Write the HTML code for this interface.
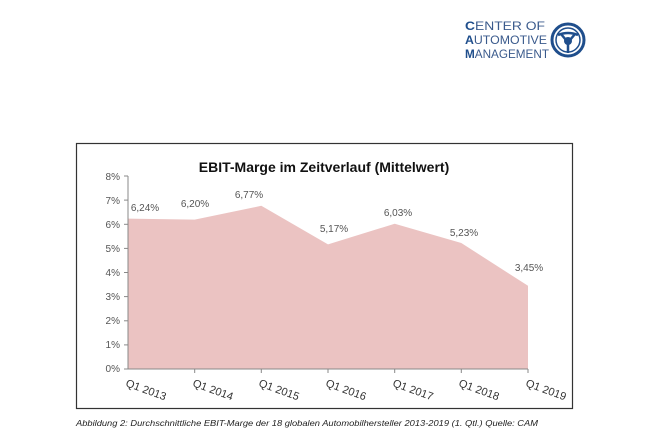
<!DOCTYPE html>
<html><head><meta charset="utf-8"><style>
body{margin:0;background:#fff;width:650px;height:434px;overflow:hidden;font-family:"Liberation Sans",sans-serif}
</style></head><body>
<svg width="650" height="434" xmlns="http://www.w3.org/2000/svg" font-family="Liberation Sans, sans-serif">
<rect width="650" height="434" fill="#fff"/>
<g fill="#3a5a8c" font-size="11.5">
<text x="465" y="30" textLength="80" lengthAdjust="spacingAndGlyphs"><tspan fill="#1f4e8c" font-weight="bold">C</tspan>ENTER OF</text>
<text x="465" y="44" textLength="82" lengthAdjust="spacingAndGlyphs"><tspan fill="#1f4e8c" font-weight="bold">A</tspan>UTOMOTIVE</text>
<text x="465" y="58" textLength="84" lengthAdjust="spacingAndGlyphs"><tspan fill="#1f4e8c" font-weight="bold">M</tspan>ANAGEMENT</text>
</g>
<circle cx="568" cy="40" r="16" fill="none" stroke="#1f4e8c" stroke-width="3"/>
<circle cx="568" cy="40" r="12" fill="none" stroke="#1f4e8c" stroke-width="1.5"/>
<circle cx="568" cy="41" r="4" fill="#1f4e8c"/>
<path d="M558 35 Q568 31 578 35 M568 41 L568 53 M561 34 L566 40 M575 34 L570 40" stroke="#1f4e8c" stroke-width="2.5" fill="none"/>
<rect x="76.5" y="143.5" width="496" height="265" fill="#fff" stroke="#333" stroke-width="1.2"/>
<text x="324" y="172" text-anchor="middle" font-size="14" font-weight="bold" fill="#111">EBIT-Marge im  Zeitverlauf (Mittelwert)</text>
<polygon points="128,369 128,218.6 194.7,219.6 261.3,205.8 328,244.4 394.7,223.7 461.3,243 528,285.8 528,369" fill="#ebc3c2"/>
<g stroke="#888" stroke-width="1">
<line x1="128" y1="176" x2="128" y2="369"/>
<line x1="128" y1="369" x2="528" y2="369"/>
<line x1="124" y1="176" x2="128" y2="176"/><line x1="124" y1="200.1" x2="128" y2="200.1"/><line x1="124" y1="224.3" x2="128" y2="224.3"/><line x1="124" y1="248.4" x2="128" y2="248.4"/><line x1="124" y1="272.5" x2="128" y2="272.5"/><line x1="124" y1="296.6" x2="128" y2="296.6"/><line x1="124" y1="320.8" x2="128" y2="320.8"/><line x1="124" y1="344.9" x2="128" y2="344.9"/><line x1="124" y1="369" x2="128" y2="369"/>
<line x1="194.7" y1="369" x2="194.7" y2="373"/><line x1="261.3" y1="369" x2="261.3" y2="373"/><line x1="328" y1="369" x2="328" y2="373"/><line x1="394.7" y1="369" x2="394.7" y2="373"/><line x1="461.3" y1="369" x2="461.3" y2="373"/><line x1="528" y1="369" x2="528" y2="373"/>
</g>
<g font-size="10" fill="#555" text-anchor="end">
<text x="120" y="180">8%</text><text x="120" y="204">7%</text><text x="120" y="228">6%</text><text x="120" y="252">5%</text><text x="120" y="276">4%</text><text x="120" y="300">3%</text><text x="120" y="324">2%</text><text x="120" y="348">1%</text><text x="120" y="372">0%</text>
</g>
<g font-size="10" fill="#555" text-anchor="middle">
<text x="145" y="211">6,24%</text><text x="195" y="207">6,20%</text><text x="249" y="198">6,77%</text><text x="334" y="232">5,17%</text><text x="398" y="216">6,03%</text><text x="464" y="236">5,23%</text><text x="529" y="271">3,45%</text>
</g>
<g font-size="11" fill="#333">
<text transform="translate(125,386) rotate(20)">Q1 2013</text>
<text transform="translate(192,386) rotate(20)">Q1 2014</text>
<text transform="translate(258,386) rotate(20)">Q1 2015</text>
<text transform="translate(325,386) rotate(20)">Q1 2016</text>
<text transform="translate(392,386) rotate(20)">Q1 2017</text>
<text transform="translate(458,386) rotate(20)">Q1 2018</text>
<text transform="translate(525,386) rotate(20)">Q1 2019</text>
</g>
<text x="76" y="426" font-size="8.5" font-style="italic" fill="#222" textLength="462" lengthAdjust="spacingAndGlyphs">Abbildung 2: Durchschnittliche EBIT-Marge der 18 globalen Automobilhersteller 2013-2019 (1. Qtl.) Quelle: CAM</text>
</svg>
</body></html>
